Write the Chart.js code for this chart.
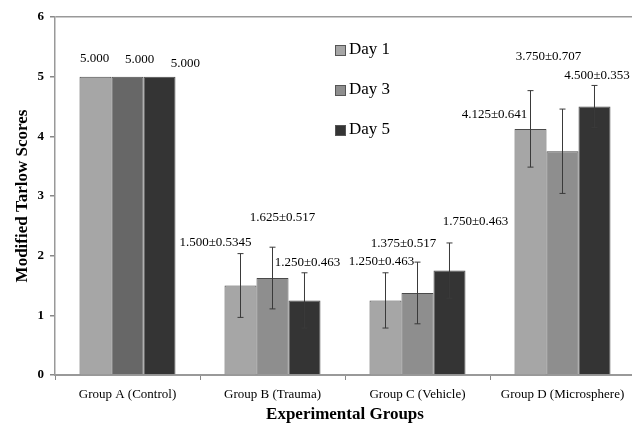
<!DOCTYPE html>
<html>
<head>
<meta charset="utf-8">
<script src="https://cdn.jsdelivr.net/npm/chart.js@4.4.1/dist/chart.umd.min.js"></script>
<style>
  html, body { margin: 0; padding: 0; background: #fff; overflow: hidden; }
  #wrap { width: 636px; height: 425px; }
</style>
</head>
<body>
<div id="wrap"><canvas id="c" width="636" height="425"></canvas></div>
<script>
const categories = ['Group A (Control)', 'Group B (Trauma)', 'Group C (Vehicle)', 'Group D (Microsphere)'];
const seriesNames = ['Day 1', 'Day 3', 'Day 5'];
const day1 = [5.000, 1.500, 1.250, 4.125];
const day3 = [5.000, 1.625, 1.375, 3.750];
const day5 = [5.000, 1.250, 1.750, 4.500];
const err1 = [0, 0.5345, 0.463, 0.641];
const err3 = [0, 0.517, 0.517, 0.707];
const err5 = [0, 0.463, 0.463, 0.353];
const yTicks = [0, 1, 2, 3, 4, 5, 6];

// label placement offsets (px) relative to the top of each error bar: [dx, dy]
const labelOffsets = [
  [[-1, -18], [-25, -11], [-4, -11], [-36, 24]],
  [[12, -17], [10, -30], [-14, -19], [-14, -52]],
  [[26, -13], [3, -10], [26, -21], [2.5, -10]]
];

const values = [day1, day3, day5];
const errors = [err1, err3, err5];
const colors = [
  ['#a6a6a6', '#a6a6a6', '#a6a6a6', '#a6a6a6'],
  ['#676767', '#8e8e8e', '#8e8e8e', '#8e8e8e'],
  ['#343434', '#343434', '#343434', '#343434']
];
const legendColors = ['#a6a6a6', '#8e8e8e', '#343434'];

const SERIF = '"Liberation Serif", "Times New Roman", serif';

const errorBarPlugin = {
  id: 'errorBars',
  afterDatasetsDraw(chart) {
    const ctx = chart.ctx;
    const y = chart.scales.y;
    ctx.save();
    chart.data.datasets.forEach((ds, di) => {
      const meta = chart.getDatasetMeta(di);
      meta.data.forEach((el, i) => {
        const v = values[di][i], e = errors[di][i];
        if (e > 0) {
          const top = y.getPixelForValue(v + e);
          const bot = y.getPixelForValue(v - e);
          ctx.strokeStyle = '#3a3a3a';
          ctx.lineWidth = 1;
          ctx.beginPath();
          ctx.moveTo(el.x, top); ctx.lineTo(el.x, bot);
          ctx.moveTo(el.x - 3, top); ctx.lineTo(el.x + 3, top);
          ctx.moveTo(el.x - 3, bot); ctx.lineTo(el.x + 3, bot);
          ctx.stroke();
        }
        const txt = e > 0 ? v.toFixed(3) + '\u00b1' + String(e) : v.toFixed(3);
        const off = labelOffsets[di][i];
        ctx.fillStyle = '#000';
        ctx.font = '13px ' + SERIF;
        ctx.textAlign = 'center';
        ctx.textBaseline = 'middle';
        ctx.fillText(txt, el.x + off[0], y.getPixelForValue(v + e) + off[1]);
      });
    });
    ctx.restore();
  }
};

const legendPlugin = {
  id: 'customLegend',
  afterDraw(chart) {
    const ctx = chart.ctx;
    const a = chart.chartArea;
    ctx.save();
    seriesNames.forEach((name, i) => {
      const x = a.left + 280;
      const yc = a.top + 33 + i * 40;
      ctx.fillStyle = legendColors[i];
      ctx.fillRect(x, yc - 5, 10, 10);
      ctx.strokeStyle = '#555';
      ctx.lineWidth = 1;
      ctx.strokeRect(x + 0.5, yc - 4.5, 10, 10);
      ctx.fillStyle = '#000';
      ctx.font = '17px ' + SERIF;
      ctx.textAlign = 'left';
      ctx.textBaseline = 'middle';
      ctx.fillText(name, x + 14, yc);
    });
    ctx.restore();
  }
};

new Chart(document.getElementById('c'), {
  type: 'bar',
  data: {
    labels: categories,
    datasets: seriesNames.map((n, i) => ({
      label: n,
      data: values[i],
      backgroundColor: colors[i],
      borderColor: '#4a4a4a',
      borderWidth: 1,
      categoryPercentage: 0.662,
      barPercentage: 1.0
    }))
  },
  options: {
    responsive: false,
    animation: false,
    devicePixelRatio: 1,
    layout: { padding: { top: 17, right: 1, left: 0, bottom: 0 } },
    plugins: { legend: { display: false }, tooltip: { enabled: false } },
    scales: {
      x: {
        afterFit(s) { s.height = 50; },
        grid: { offset: true, drawOnChartArea: false, tickLength: 5, tickColor: '#888' },
        border: { color: '#999', width: 2 },
        ticks: { color: '#000', font: { family: SERIF, size: 13 }, padding: 7, maxRotation: 0 },
        title: { display: true, text: 'Experimental Groups', color: '#000', font: { family: SERIF, size: 17, weight: 'bold' }, padding: { top: 2, bottom: 0 } }
      },
      y: {
        min: 0, max: 6,
        afterFit(s) { s.width = 55; },
        afterBuildTicks(s) { s.ticks = yTicks.map(v => ({ value: v })); },
        grid: {
          drawOnChartArea: true,
          color: c => (c.tick && c.tick.value === 6) ? '#999' : 'rgba(0,0,0,0)',
          lineWidth: 1.5,
          tickLength: 5,
          tickColor: '#888'
        },
        border: { color: '#999', width: 1.5 },
        ticks: { color: '#000', font: { family: SERIF, size: 13, weight: 'bold' }, padding: 6 },
        title: { display: true, text: 'Modified Tarlow Scores', color: '#000', font: { family: SERIF, size: 17, weight: 'bold' }, padding: { top: 12, bottom: 4 } }
      }
    }
  },
  plugins: [errorBarPlugin, legendPlugin]
});
</script>
</body>
</html>
